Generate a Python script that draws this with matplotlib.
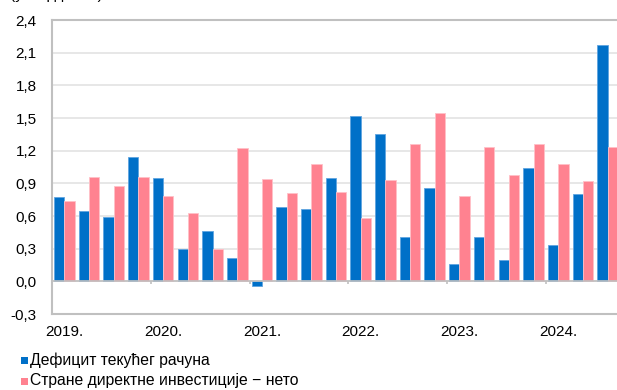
import matplotlib
matplotlib.use("Agg")
import matplotlib.pyplot as plt
from matplotlib.patches import Rectangle
from matplotlib.transforms import blended_transform_factory
import numpy as np

plt.rcParams['font.family'] = ['Liberation Sans', 'DejaVu Sans']

# Quarterly data, 2019 Q1 - 2024 Q3 (EUR bn)
quarters = ["2019Q1", "2019Q2", "2019Q3", "2019Q4",
            "2020Q1", "2020Q2", "2020Q3", "2020Q4",
            "2021Q1", "2021Q2", "2021Q3", "2021Q4",
            "2022Q1", "2022Q2", "2022Q3", "2022Q4",
            "2023Q1", "2023Q2", "2023Q3", "2023Q4",
            "2024Q1", "2024Q2", "2024Q3"]
current_account_deficit = [0.77, 0.65, 0.59, 1.14,
                           0.95, 0.30, 0.46, 0.21,
                           -0.04, 0.68, 0.66, 0.95,
                           1.52, 1.35, 0.41, 0.86,
                           0.16, 0.41, 0.20, 1.04,
                           0.33, 0.80, 2.17]
fdi_net = [0.74, 0.96, 0.88, 0.96,
           0.78, 0.63, 0.30, 1.22,
           0.94, 0.81, 1.08, 0.82,
           0.58, 0.93, 1.26, 1.55,
           0.78, 1.23, 0.98, 1.26,
           1.08, 0.92, 1.23]
year_labels = ["2019.", "2020.", "2021.", "2022.", "2023.", "2024."]
y_ticks = [-0.3, 0.0, 0.3, 0.6, 0.9, 1.2, 1.5, 1.8, 2.1, 2.4]
series_names = ["Дефицит текућег рачуна", "Стране директне инвестиције − нето"]

BLUE = "#0070C8"
PINK = "#FF8290"
GRID = "#E3E3E3"
FRAME = "#C0C0C0"

W, H = 617, 390
fig = plt.figure(figsize=(W / 100, H / 100), dpi=100)

# plot area in pixels: left 52, right 620, top 20, bottom 314
left, right, top, bottom = 52, 620, 20, 314
ax = fig.add_axes([left / W, 1 - bottom / H, (right - left) / W, (bottom - top) / H])

n = len(quarters)
x = np.arange(n)
bw = 0.417
ax.bar(x - bw / 2, current_account_deficit, width=bw, color=BLUE,
       edgecolor="#5FA4E0", linewidth=0.6, zorder=3)
ax.bar(x + bw / 2, fdi_net, width=bw, color=PINK,
       edgecolor="#FFC0C8", linewidth=0.6, zorder=3)

ax.set_xlim(-0.5, n - 0.5)
ax.set_ylim(-0.3, 2.4)

# horizontal gridlines
for v in y_ticks[1:-1]:
    ax.axhline(v, color=GRID, linewidth=1.2, zorder=1)
# zero line with year-boundary tick marks
ax.axhline(0, color=FRAME, linewidth=1.2, zorder=4)
for b in np.arange(3.5, n - 0.5, 4):
    ax.plot([b, b], [0, -0.025], color=FRAME, linewidth=1.2, zorder=4,
            solid_capstyle="butt")

for s in ax.spines.values():
    s.set_color(FRAME)
    s.set_linewidth(1.5)
ax.spines["right"].set_visible(False)

ax.set_yticks(y_ticks)
ax.set_yticklabels([f"{v:.1f}".replace(".", ",") for v in y_ticks], fontsize=11)
ax.tick_params(axis="y", length=0, pad=11, colors="#000000")
ax.set_xticks([])

trans = blended_transform_factory(ax.transData, ax.transAxes)
for i, lab in enumerate(year_labels):
    ax.text(i * 4, -18 / (bottom - top), lab, transform=trans,
            ha="center", va="center", fontsize=11)

# unit label above the plot (sits at the top edge, only its lower part shows)
fig.text(10 / W, 1 + 1.5 / H, "(у млрд ЕУР)", ha="left", va="baseline", fontsize=11)

# legend
for k, (name, col) in enumerate(zip(series_names, [BLUE, PINK])):
    yc = 360 + k * 21
    fig.patches.append(Rectangle((21 / W, 1 - (yc + 4) / H), 7.5 / W, 7.5 / H,
                                 transform=fig.transFigure, facecolor=col,
                                 edgecolor="none"))
    fig.text(30 / W, 1 - yc / H, name, ha="left", va="center", fontsize=11.3)

fig.savefig("out.png", dpi=100)
